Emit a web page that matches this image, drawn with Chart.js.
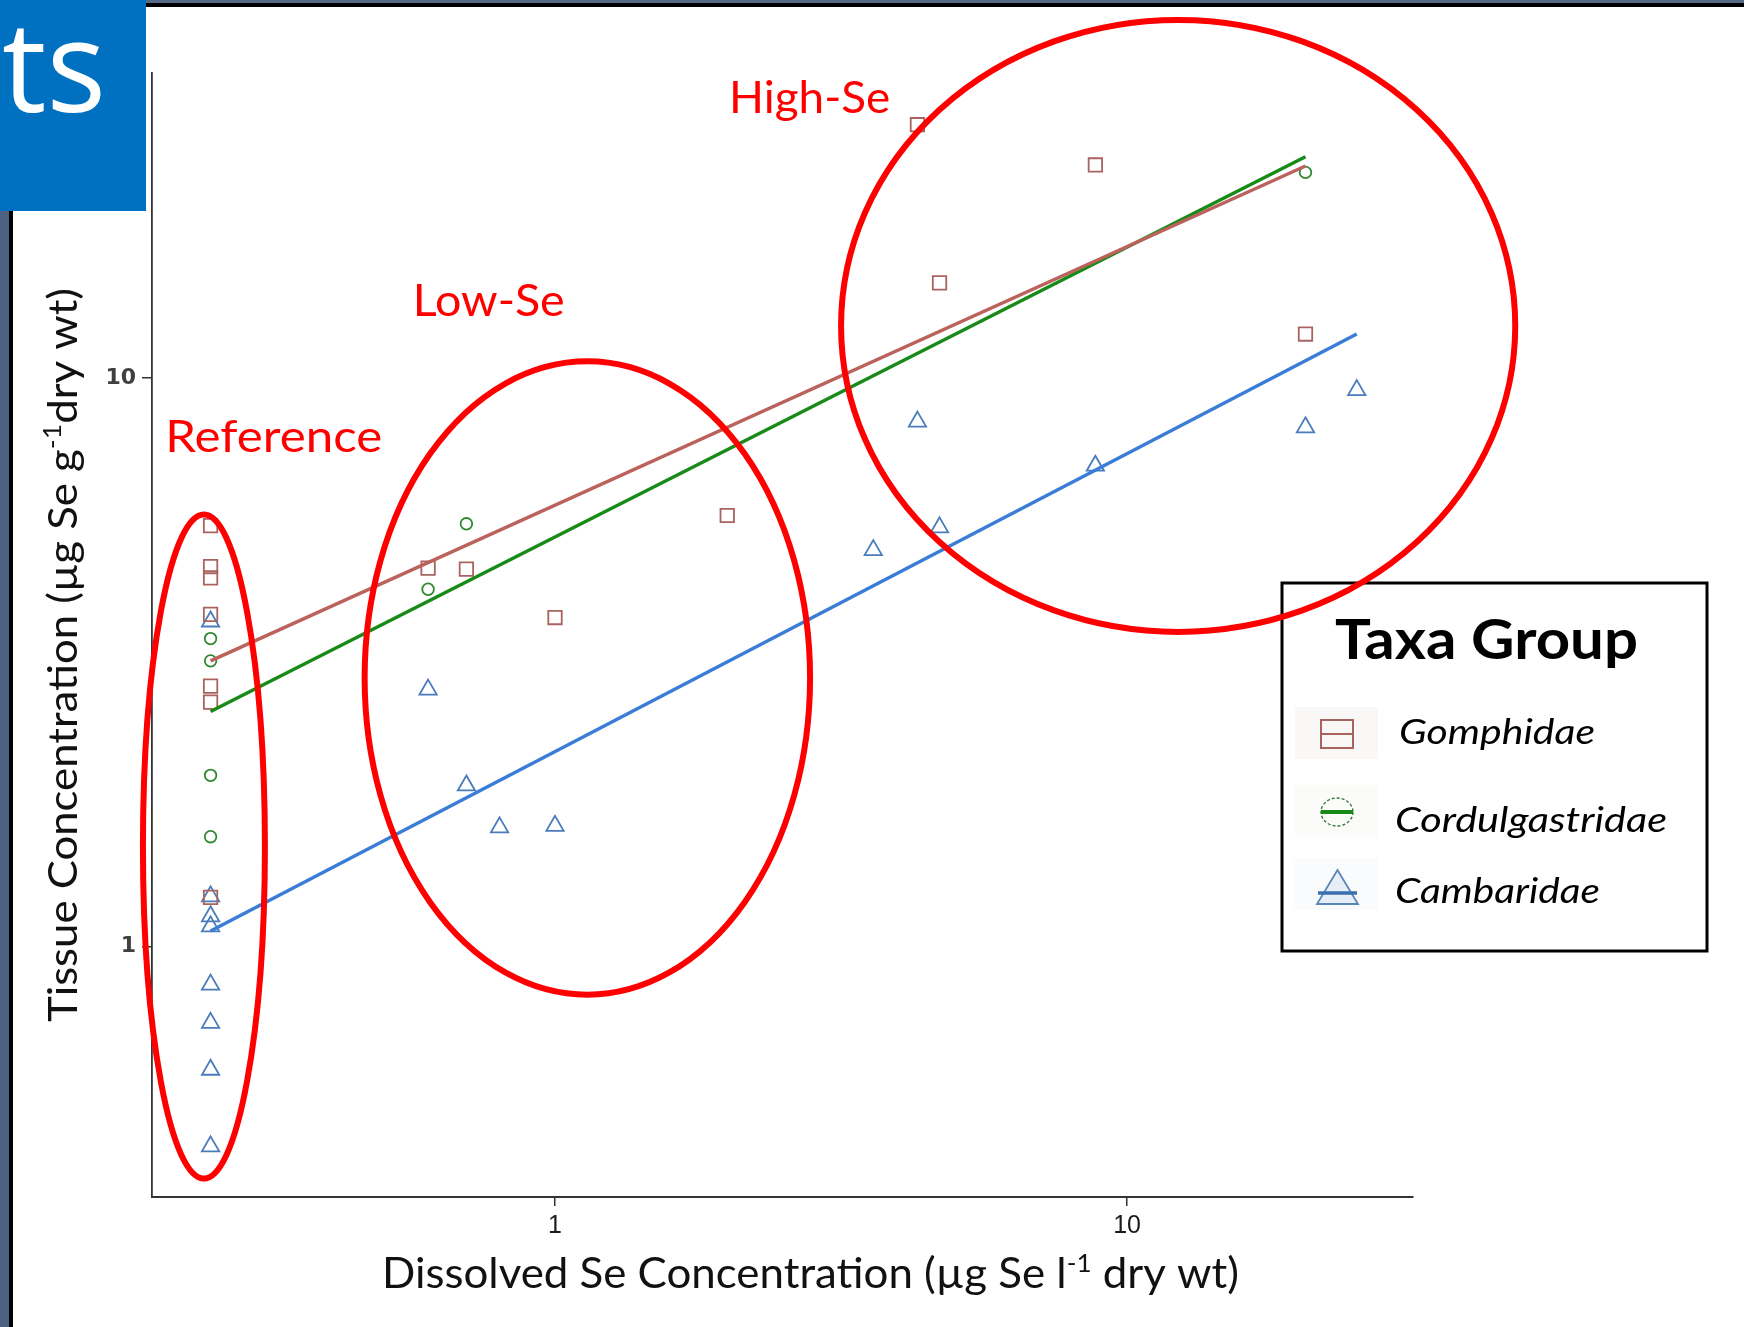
<!DOCTYPE html>
<html>
<head>
<meta charset="utf-8">
<title>Selenium bioaccumulation by taxa group</title>
<script src="https://cdn.jsdelivr.net/npm/chart.js@4.4.1/dist/chart.umd.min.js"></script>
<style>
  html, body { margin: 0; padding: 0; background: #fff; }
  #wrap { position: relative; width: 1744px; height: 1327px; overflow: hidden; }
  #plot { position: absolute; left: 0; top: 0; }
</style>
</head>
<body>
<div id="wrap"><canvas id="plot" width="1744" height="1327"></canvas></div>
<script>
// ---- Data (dissolved Se, ug/L  vs  tissue Se, ug/g dry wt) ----
const TAXA = ['Gomphidae', 'Cordulgastridae', 'Cambaridae'];

const gomphidaeX = [0.25, 0.25, 0.25, 0.25, 0.25, 0.25, 0.25, 0.6, 0.7, 1.0, 2.0, 4.3, 8.8, 4.7, 20.5];
const gomphidaeY = [5.50, 4.66, 4.45, 3.84, 2.87, 2.69, 1.22, 4.63, 4.61, 3.79, 5.73, 27.9, 23.7, 14.7, 11.95];

const cordulX = [0.25, 0.25, 0.25, 0.25, 0.6, 0.7, 20.5];
const cordulY = [3.48, 3.18, 2.00, 1.56, 4.25, 5.54, 23.0];

const cambarX = [0.25, 0.25, 0.25, 0.25, 0.25, 0.25, 0.25, 0.25, 0.6, 0.7, 0.8, 1.0, 3.6, 4.3, 4.7, 8.8, 20.5, 25.2];
const cambarY = [3.73, 1.225, 1.13, 1.085, 0.857, 0.734, 0.607, 0.445, 2.83, 1.92, 1.62, 1.63, 4.98, 8.38, 5.46, 7.01, 8.19, 9.52];

// log-log regression lines (end points)
const gomphFitX = [0.25, 20.5];
const gomphFitY = [3.18, 23.6];
const cordulFitX = [0.25, 20.5];
const cordulFitY = [2.59, 24.5];
const cambarFitX = [0.25, 25.2];
const cambarFitY = [1.065, 11.95];

// axes
const X_RANGE = [0.1975, 31.6];
const Y_RANGE = [0.3625, 34.4];
const X_TICKS = [1, 10];
const X_TICK_LABELS = ['1', '10'];
const Y_TICKS = [1, 10];
const Y_TICK_LABELS = ['1', '10'];

// site groups outlined on the plot (centre in data units, half-axes in decades)
const ZONE_NAMES = ['Reference', 'Low-Se', 'High-Se'];
const ZONE_CX = [0.2434, 1.139, 12.28];
const ZONE_CY = [1.499, 2.967, 12.35];
const ZONE_RX = [0.1066, 0.3893, 0.5892];
const ZONE_RY = [0.584, 0.5571, 0.5383];
const ZONE_LABEL_X = [0.2083, 0.564, 2.015];
const ZONE_LABEL_Y = [7.42, 12.87, 29.2];

// ---- Styling ----
const COL = {
  gomph: '#a9635f', gomphLine: '#bc625c',
  cordul: '#2f8a2f', cordulLine: '#178a17',
  cambar: '#4a7cbc', cambarLine: '#3a7dd6',
  zone: '#ff0000'
};
const SANS = 'Lato, "Open Sans", sans-serif';

const pts = (xs, ys) => xs.map((x, i) => ({ x: x, y: ys[i] }));

// draws text pieces (with optional raised superscripts) squeezed/stretched to a given width
function drawFitted(ctx, parts, x, y, width, color) {
  ctx.save();
  let natural = 0;
  for (const p of parts) { ctx.font = p.font; natural += ctx.measureText(p.text).width; }
  ctx.translate(x, y);
  ctx.scale(width / natural, 1);
  ctx.fillStyle = color;
  ctx.textAlign = 'left';
  ctx.textBaseline = 'alphabetic';
  let cx = 0;
  for (const p of parts) {
    ctx.font = p.font;
    ctx.fillText(p.text, cx, -(p.rise || 0));
    cx += ctx.measureText(p.text).width;
  }
  ctx.restore();
}

// slide frame behind the chart
const slideFrame = {
  id: 'slideFrame',
  beforeDraw(chart) {
    const ctx = chart.ctx, W = chart.width, H = chart.height;
    ctx.save();
    ctx.fillStyle = '#ffffff';
    ctx.fillRect(0, 0, W, H);
    ctx.fillStyle = '#566a87';
    ctx.fillRect(146, 0, W - 146, 3);
    ctx.fillStyle = '#000000';
    ctx.fillRect(146, 3, W - 146, 4);
    ctx.fillStyle = '#4d6281';
    ctx.fillRect(0, 211, 9, H - 211);
    ctx.fillStyle = '#000000';
    ctx.fillRect(9, 211, 4, H - 211);
    ctx.fillStyle = '#0070c0';
    ctx.fillRect(0, 0, 146, 211);
    ctx.restore();
    drawFitted(ctx, [{ text: 'ts', font: '127px "Open Sans", Lato, sans-serif' }], 2, 112, 104, '#ffffff');
  }
};

// axis titles, legend and site-group outlines
const overlay = {
  id: 'overlay',
  afterDraw(chart) {
    const ctx = chart.ctx;
    const xs = chart.scales.x, ys = chart.scales.y;

    // axis titles
    drawFitted(ctx, [
      { text: 'Dissolved Se Concentration (\u00b5g Se l', font: '42px ' + SANS },
      { text: '-1', font: '25px ' + SANS, rise: 16 },
      { text: ' dry wt)', font: '42px ' + SANS }
    ], 382, 1288, 857, '#111111');

    ctx.save();
    ctx.translate(77, 1022);
    ctx.rotate(-Math.PI / 2);
    drawFitted(ctx, [
      { text: 'Tissue Concentration (\u00b5g Se g', font: '41px ' + SANS },
      { text: '-1', font: '25px ' + SANS, rise: 16 },
      { text: 'dry wt)', font: '41px ' + SANS }
    ], 0, 0, 734, '#111111');
    ctx.restore();

    // legend
    const L = 1282, T = 583, R = 1707, B = 951;
    ctx.save();
    ctx.fillStyle = '#ffffff';
    ctx.fillRect(L, T, R - L, B - T);
    ctx.lineWidth = 3;
    ctx.strokeStyle = '#000000';
    ctx.strokeRect(L, T, R - L, B - T);

    // key backgrounds
    ctx.fillStyle = '#faf7f7';
    ctx.fillRect(1295, 707, 83, 52);
    ctx.fillStyle = '#fbfbf9';
    ctx.fillRect(1295, 785, 83, 52);
    ctx.fillStyle = '#fafbfc';
    ctx.fillRect(1295, 858, 83, 52);

    // Gomphidae key
    ctx.strokeStyle = COL.gomph;
    ctx.lineWidth = 2;
    ctx.strokeRect(1321, 720, 32, 28);
    ctx.beginPath(); ctx.moveTo(1321, 734); ctx.lineTo(1353, 734); ctx.stroke();

    // Cordulgastridae key
    ctx.strokeStyle = '#3d7a3d';
    ctx.lineWidth = 1.4;
    ctx.setLineDash([3, 2]);
    ctx.beginPath(); ctx.ellipse(1337, 812, 16, 14, 0, 0, Math.PI * 2); ctx.stroke();
    ctx.setLineDash([]);
    ctx.strokeStyle = COL.cordulLine;
    ctx.lineWidth = 4;
    ctx.beginPath(); ctx.moveTo(1321, 812); ctx.lineTo(1353, 812); ctx.stroke();

    // Cambaridae key
    ctx.fillStyle = '#e6eff8';
    ctx.strokeStyle = '#5a86b8';
    ctx.lineWidth = 1.8;
    ctx.beginPath();
    ctx.moveTo(1337.5, 870); ctx.lineTo(1358, 904); ctx.lineTo(1317, 904); ctx.closePath();
    ctx.fill(); ctx.stroke();
    ctx.strokeStyle = '#3a6fb0';
    ctx.lineWidth = 3.5;
    ctx.beginPath(); ctx.moveTo(1318, 893); ctx.lineTo(1357, 893); ctx.stroke();
    ctx.restore();

    drawFitted(ctx, [{ text: 'Taxa Group', font: 'bold 56px ' + SANS }], 1335, 659, 303, '#000000');
    const names = chart.data.datasets.filter(d => d.isTaxon).map(d => d.label);
    const itemX = [1399, 1395, 1395], itemY = [744, 832, 903], itemW = [196, 272, 205];
    names.forEach((n, i) => {
      drawFitted(ctx, [{ text: n, font: 'italic 34px ' + SANS }], itemX[i], itemY[i], itemW[i], '#000000');
    });

    // site-group outlines and names
    ctx.save();
    ctx.strokeStyle = COL.zone;
    ctx.lineWidth = 6;
    ZONE_NAMES.forEach((name, i) => {
      const cx = xs.getPixelForValue(ZONE_CX[i]);
      const cy = ys.getPixelForValue(ZONE_CY[i]);
      const rx = xs.getPixelForValue(ZONE_CX[i] * Math.pow(10, ZONE_RX[i])) - cx;
      const ry = cy - ys.getPixelForValue(ZONE_CY[i] * Math.pow(10, ZONE_RY[i]));
      ctx.beginPath();
      ctx.ellipse(cx, cy, rx, ry, 0, 0, Math.PI * 2);
      ctx.stroke();
    });
    ctx.restore();
    const labelW = [217, 152, 161];
    ZONE_NAMES.forEach((name, i) => {
      drawFitted(ctx, [{ text: name, font: '44px ' + SANS }],
        xs.getPixelForValue(ZONE_LABEL_X[i]), ys.getPixelForValue(ZONE_LABEL_Y[i]), labelW[i], COL.zone);
    });
  }
};

const markerBase = { showLine: false, pointBorderWidth: 1.8, pointBackgroundColor: 'rgba(0,0,0,0)', isTaxon: true };
const fitBase = { showLine: true, pointRadius: 0, borderWidth: 3.5, fill: false, tension: 0 };

new Chart(document.getElementById('plot'), {
  type: 'scatter',
  data: {
    datasets: [
      Object.assign({ label: TAXA[0] + ' fit', data: pts(gomphFitX, gomphFitY), borderColor: COL.gomphLine, order: 0 }, fitBase),
      Object.assign({ label: TAXA[1] + ' fit', data: pts(cordulFitX, cordulFitY), borderColor: COL.cordulLine, order: 0 }, fitBase),
      Object.assign({ label: TAXA[2] + ' fit', data: pts(cambarFitX, cambarFitY), borderColor: COL.cambarLine, order: 0 }, fitBase),
      Object.assign({ label: TAXA[0], data: pts(gomphidaeX, gomphidaeY), pointStyle: 'rect', pointRadius: 9.5,
        pointBorderColor: COL.gomph, borderColor: COL.gomph, order: 1 }, markerBase),
      Object.assign({ label: TAXA[1], data: pts(cordulX, cordulY), pointStyle: 'circle', pointRadius: 5.8,
        pointBorderColor: COL.cordul, borderColor: COL.cordul, order: 1 }, markerBase),
      Object.assign({ label: TAXA[2], data: pts(cambarX, cambarY), pointStyle: 'triangle', pointRadius: 10,
        pointBorderColor: COL.cambar, borderColor: COL.cambar, order: 1 }, markerBase)
    ]
  },
  options: {
    responsive: false,
    devicePixelRatio: 1,
    animation: false,
    events: [],
    layout: { padding: { left: 0, top: 73, right: 331, bottom: 0 } },
    plugins: { legend: { display: false }, tooltip: { enabled: false }, title: { display: false } },
    scales: {
      x: {
        type: 'logarithmic',
        position: 'bottom',
        min: X_RANGE[0], max: X_RANGE[1],
        afterBuildTicks: s => { s.ticks = X_TICKS.map(v => ({ value: v })); },
        afterFit: s => { s.height = 130; },
        ticks: {
          autoSkip: false, maxRotation: 0, padding: 5, color: '#1a1a1a',
          font: { family: '"Liberation Sans", Arial, sans-serif', size: 25 },
          callback: v => X_TICK_LABELS[X_TICKS.indexOf(v)]
        },
        grid: { display: true, drawOnChartArea: false, drawTicks: true, tickLength: 9, color: '#333333', lineWidth: 1.5 },
        border: { display: true, color: '#333333', width: 2 }
      },
      y: {
        type: 'logarithmic',
        position: 'left',
        min: Y_RANGE[0], max: Y_RANGE[1],
        afterBuildTicks: s => { s.ticks = Y_TICKS.map(v => ({ value: v })); },
        afterFit: s => { s.width = 152; },
        ticks: {
          autoSkip: false, padding: 6, color: '#404040',
          font: { family: '"DejaVu Sans", sans-serif', size: 22, weight: 'bold' },
          callback: v => Y_TICK_LABELS[Y_TICKS.indexOf(v)]
        },
        grid: { display: true, drawOnChartArea: false, drawTicks: true, tickLength: 10, color: '#333333', lineWidth: 1.5 },
        border: { display: true, color: '#333333', width: 1.8 }
      }
    }
  },
  plugins: [slideFrame, overlay]
});
</script>
</body>
</html>
